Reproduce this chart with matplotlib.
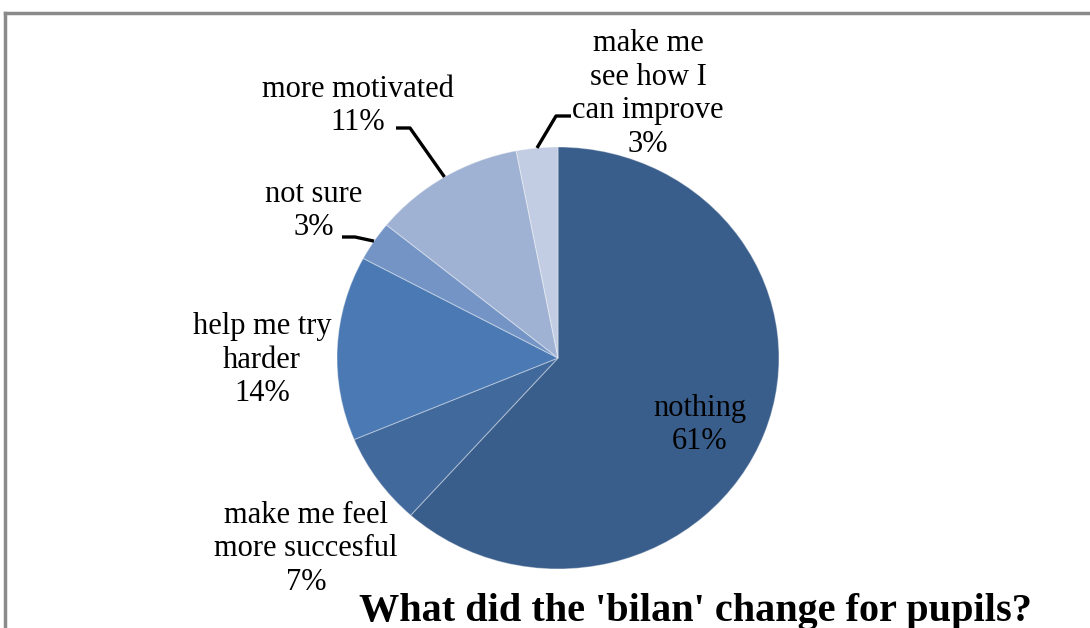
import numpy as np
import matplotlib
matplotlib.use("Agg")
import matplotlib.pyplot as plt

# ---- data ----
categories = ["nothing", "make me feel\nmore succesful", "help me try\nharder",
              "not sure", "more motivated", "make me\nsee how I\ncan improve"]
values = [61, 7, 14, 3, 11, 3]
pct_labels = ["61%", "7%", "14%", "3%", "11%", "3%"]
title = "What did the 'bilan' change for pupils?"

colors = ["#3a5e8b", "#41699c", "#4a79b3", "#7394c5", "#a0b2d3", "#c2cce2"]

W, H = 1090, 628
fig = plt.figure(figsize=(W / 100, H / 100), dpi=100)
fig.patch.set_facecolor("white")

# pie geometry (pixels)
cx, cy, rx, ry = 558, 358, 221, 211

ax = fig.add_axes([(cx - rx) / W, 1 - (cy + ry) / H, 2 * rx / W, 2 * ry / H])
wedges, _ = ax.pie(values, startangle=90, counterclock=False, radius=1,
                   colors=colors,
                   wedgeprops=dict(edgecolor=(1, 1, 1, 0.35), linewidth=0.8))
ax.set_aspect("auto")
ax.set_xlim(-1, 1)
ax.set_ylim(-1, 1)
ax.axis("off")

# overlay in pixel coordinates
ov = fig.add_axes([0, 0, 1, 1], zorder=5)
ov.set_xlim(0, W)
ov.set_ylim(H, 0)
ov.axis("off")
ov.patch.set_alpha(0)

font = dict(family="Liberation Serif", fontsize=22, color="black",
            ha="center", va="center", linespacing=1.22)

# label positions (pixel centers)
label_pos = [(700, 425), (306, 549), (262, 360), (314, 211), (358, 106), (648, 94)]
# leader line elbows: (text-side x, y, elbow x)
leaders = {3: (342, 237, 355), 4: (396, 128, 410), 5: (571, 116, 556)}

for i, (w, cat, pct) in enumerate(zip(wedges, categories, pct_labels)):
    x, y = label_pos[i]
    ov.text(x, y, f"{cat}\n{pct}", **font)
    if i in leaders:
        tx, ty, ex = leaders[i]
        mid = np.deg2rad((w.theta1 + w.theta2) / 2)
        px = cx + rx * np.cos(mid)
        py = cy - ry * np.sin(mid)
        ov.plot([tx, ex, px], [ty, ty, py], color="black", lw=2.4,
                solid_capstyle="butt")

ov.text(695, 621, title, family="Liberation Serif", fontweight="bold",
        fontsize=29, ha="center", va="baseline", color="black")

# frame lines (top and left)
ov.plot([5, W], [13, 13], color="#8a8a8a", lw=2.5, clip_on=False)
ov.plot([5, 5], [13, H], color="#8a8a8a", lw=2.5, clip_on=False)

fig.savefig("out.png", dpi=100, facecolor="white")
